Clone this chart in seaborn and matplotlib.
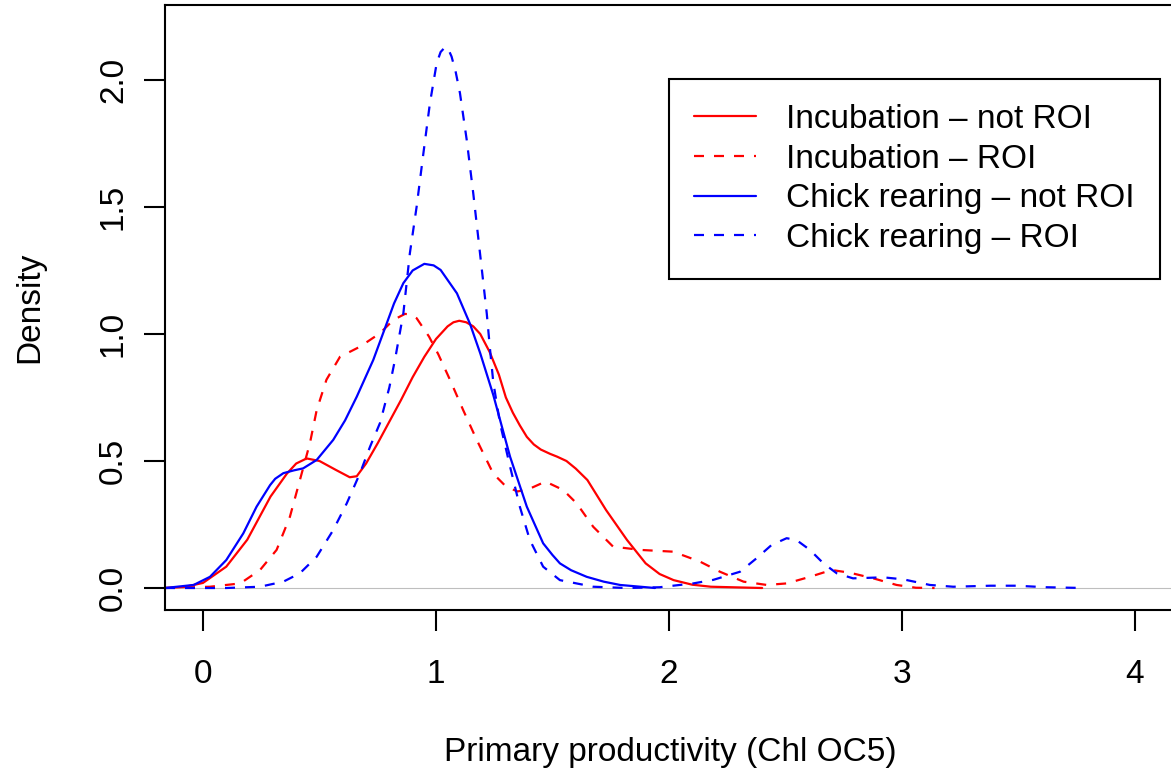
import matplotlib
matplotlib.use("Agg")
import matplotlib.pyplot as plt
import seaborn as sns

# Kernel density estimates of chlorophyll (Chl OC5) per breeding stage and area
inc_not_x = [-0.163, -0.08, 0.0, 0.10, 0.19, 0.29, 0.36, 0.40, 0.445, 0.50, 0.57, 0.63,
             0.66, 0.70, 0.75, 0.80, 0.85, 0.90, 0.95, 1.00, 1.05, 1.075, 1.10, 1.13,
             1.16, 1.19, 1.23, 1.27, 1.30, 1.33, 1.36, 1.39, 1.42, 1.45, 1.49, 1.52,
             1.56, 1.60, 1.65, 1.73, 1.82, 1.90, 1.96, 2.02, 2.10, 2.18, 2.40]
inc_not_y = [0.0, 0.004, 0.02, 0.084, 0.19, 0.36, 0.45, 0.49, 0.51, 0.50, 0.465, 0.436,
             0.44, 0.49, 0.57, 0.655, 0.74, 0.83, 0.91, 0.98, 1.03, 1.046, 1.052, 1.046,
             1.03, 1.0, 0.93, 0.84, 0.75, 0.69, 0.64, 0.595, 0.565, 0.545, 0.528, 0.517,
             0.50, 0.47, 0.425, 0.307, 0.189, 0.097, 0.055, 0.031, 0.013, 0.005, 0.0]

inc_roi_x = [-0.163, 0.03, 0.16, 0.245, 0.316, 0.373, 0.416, 0.459, 0.488, 0.53, 0.588,
             0.674, 0.76, 0.817, 0.867, 0.89, 0.917, 0.97, 1.01, 1.06, 1.117, 1.175,
             1.246, 1.30, 1.35, 1.40, 1.47, 1.546, 1.604, 1.675, 1.76, 1.876, 2.018,
             2.133, 2.219, 2.32, 2.42, 2.505, 2.605, 2.698, 2.777, 2.877, 2.977, 3.06,
             3.14]
inc_roi_y = [0.0, 0.005, 0.018, 0.071, 0.15, 0.28, 0.425, 0.57, 0.70, 0.82, 0.91,
             0.95, 1.003, 1.055, 1.079, 1.077, 1.062, 0.99, 0.92, 0.82, 0.70, 0.583,
             0.45, 0.40, 0.38, 0.39, 0.419, 0.386, 0.333, 0.241, 0.163, 0.15, 0.143,
             0.104, 0.064, 0.025, 0.012, 0.018, 0.044, 0.071, 0.06, 0.038, 0.012,
             0.001, 0.0]

chick_not_x = [-0.163, -0.04, 0.03, 0.10, 0.173, 0.23, 0.288, 0.31, 0.345, 0.39, 0.43,
               0.488, 0.559, 0.61, 0.66, 0.731, 0.788, 0.82, 0.86, 0.90, 0.95, 0.99,
               1.02, 1.09, 1.146, 1.19, 1.246, 1.318, 1.39, 1.46, 1.50, 1.532, 1.58,
               1.647, 1.72, 1.79, 1.94]
chick_not_y = [0.0, 0.012, 0.044, 0.11, 0.215, 0.32, 0.405, 0.43, 0.452, 0.463, 0.471,
               0.504, 0.583, 0.66, 0.753, 0.898, 1.04, 1.12, 1.2, 1.25, 1.276, 1.27,
               1.252, 1.16, 1.04, 0.924, 0.76, 0.517, 0.32, 0.176, 0.13, 0.097, 0.07,
               0.044, 0.025, 0.012, 0.0]

chick_roi_x = [-0.163, 0.10, 0.245, 0.345, 0.416, 0.488, 0.559, 0.617, 0.674, 0.717,
               0.76, 0.80, 0.824, 0.86, 0.888, 0.917, 0.946, 0.974, 1.003, 1.02, 1.039,
               1.05, 1.067, 1.085, 1.103, 1.132, 1.16, 1.189, 1.218, 1.232, 1.246,
               1.275, 1.318, 1.36, 1.403, 1.46, 1.532, 1.675, 1.818, 1.96, 2.104, 2.19,
               2.305, 2.376, 2.44, 2.505, 2.547, 2.605, 2.663, 2.72, 2.79, 2.92, 3.006,
               3.12, 3.22, 3.38, 3.49, 3.62, 3.78]
chick_roi_y = [0.0, 0.0, 0.005, 0.025, 0.058, 0.123, 0.228, 0.333, 0.452, 0.556,
               0.65, 0.79, 0.898, 1.081, 1.318, 1.501, 1.711, 1.908, 2.066, 2.11, 2.129,
               2.127, 2.092, 2.03, 1.948, 1.764, 1.554, 1.318, 1.081, 0.94, 0.81, 0.648,
               0.478, 0.32, 0.189, 0.084, 0.031, 0.005, 0.0, 0.003, 0.018, 0.032,
               0.064, 0.117, 0.169, 0.196, 0.189, 0.15, 0.097, 0.058, 0.038, 0.042,
               0.034, 0.012, 0.005, 0.009, 0.009, 0.003, 0.0]

series_labels = ["Incubation \u2013 not ROI", "Incubation \u2013 ROI",
                 "Chick rearing \u2013 not ROI", "Chick rearing \u2013 ROI"]
x_ticks = [0, 1, 2, 3, 4]
y_ticks = [0.0, 0.5, 1.0, 1.5, 2.0]
y_tick_labels = ["0.0", "0.5", "1.0", "1.5", "2.0"]

sns.set_theme(style="ticks")
plt.rcParams["font.family"] = ["Liberation Sans", "DejaVu Sans"]
plt.rcParams["font.size"] = 24
plt.rcParams["axes.linewidth"] = 1.5
plt.rcParams["text.color"] = "black"
plt.rcParams["axes.labelcolor"] = "black"
plt.rcParams["xtick.color"] = "black"
plt.rcParams["ytick.color"] = "black"
plt.rcParams["xtick.labelcolor"] = "black"
plt.rcParams["ytick.labelcolor"] = "black"

W, H = 1171, 776
fig = plt.figure(figsize=(W / 100, H / 100), dpi=100)
left_px, right_px, top_px, bottom_px = 165, 1175, 5, 610
ax = fig.add_axes([left_px / W, 1 - bottom_px / H,
                   (right_px - left_px) / W, (bottom_px - top_px) / H])

ax.axhline(0, color="#bebebe", lw=0.8, zorder=1)

dash = (0, (4.5, 4.5))
specs = [
    (inc_not_x, inc_not_y, "#ff0000", "-"),
    (inc_roi_x, inc_roi_y, "#ff0000", dash),
    (chick_not_x, chick_not_y, "#0000ff", "-"),
    (chick_roi_x, chick_roi_y, "#0000ff", dash),
]
for (xs, ys, col, ls), lab in zip(specs, series_labels):
    sns.lineplot(x=xs, y=ys, ax=ax, color=col, linestyle=ls, lw=1.6,
                 estimator=None, sort=False, label=lab, zorder=2,
                 solid_joinstyle="round", dash_joinstyle="round")

ax.set_xlim(-0.163, 4.172)
ax.set_ylim(-0.0866, 2.295)
ax.set_xticks(x_ticks)
ax.set_xticklabels([str(t) for t in x_ticks])
ax.set_yticks(y_ticks)
ax.set_yticklabels(y_tick_labels, rotation=90, va="center")
ax.tick_params(axis="both", direction="out", length=15, width=1.5,
               colors="black", labelcolor="black", labelsize=24)
ax.tick_params(axis="x", pad=20)
ax.tick_params(axis="y", pad=11)
for s in ax.spines.values():
    s.set_color("black")
    s.set_linewidth(1.5)

ax.set_xlabel("Primary productivity (Chl OC5)", fontsize=24, labelpad=34, color="black")
ax.set_ylabel("Density", fontsize=24, labelpad=38, color="black")

leg = ax.legend(loc="upper left", bbox_to_anchor=(669 / W, 1 - 79 / H),
                bbox_transform=fig.transFigure, borderaxespad=0, fontsize=24,
                frameon=True, fancybox=False, framealpha=1, edgecolor="black",
                borderpad=0.75, labelspacing=0.26, handlelength=1.86,
                handletextpad=0.9)
leg.get_frame().set_linewidth(1.5)
for t in leg.get_texts():
    t.set_color("black")

fig.savefig("out.png", dpi=100)
